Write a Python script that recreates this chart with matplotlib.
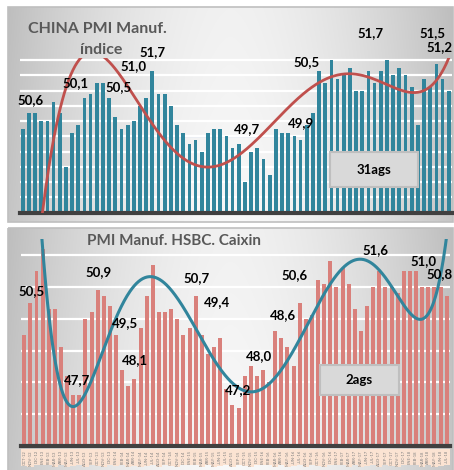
import numpy as np
import matplotlib
matplotlib.use("Agg")
import matplotlib.pyplot as plt
from matplotlib.patches import Rectangle

# ---------------- data ----------------
months_es = ["ENE", "FEB", "MAR", "ABR", "MAY", "JUN", "JUL", "AGO", "SEP", "OCT", "NOV", "DIC"]
tick_labels = [f"{months_es[(9 + i) % 12]}-{12 + (9 + i) // 12}" for i in range(70)]

pmi_official = [50.2, 50.6, 50.6, 50.4, 50.4, 50.9, 50.6, 49.2, 50.1, 50.3,
                51.0, 51.1, 51.4, 51.4, 51.0, 50.5, 50.2, 50.3, 50.4, 50.8,
                51.0, 51.7, 51.1, 51.1, 50.8, 50.3, 50.1, 49.8, 49.9, 49.6,
                50.1, 50.2, 50.2, 50.0, 49.7, 49.8, 48.8, 49.6, 49.7, 49.4,
                49.0, 50.2, 50.1, 50.1, 50.0, 49.9, 50.3, 50.6, 51.7, 51.4,
                52.0, 51.5, 51.6, 51.8, 51.2, 51.2, 51.7, 51.4, 51.7, 52.0,
                51.6, 51.8, 51.6, 51.3, 50.3, 51.5, 51.3, 51.9, 51.5, 51.2]

pmi_caixin = [49.5, 50.5, 51.5, 52.2, 50.3, 50.3, 49.1, 48.2, 47.6, 47.6,
              50.0, 50.2, 50.9, 50.7, 50.4, 49.5, 48.4, 47.9, 48.1, 49.7,
              50.7, 51.7, 50.2, 50.2, 50.3, 50.0, 49.5, 49.7, 50.7, 49.5,
              48.9, 49.1, 49.4, 47.8, 47.3, 47.2, 48.2, 48.5, 48.2, 48.4,
              48.0, 49.6, 49.4, 49.1, 48.5, 50.5, 50.0, 50.1, 51.2, 51.1,
              51.8, 51.0, 51.6, 51.1, 50.3, 49.6, 50.4, 51.0, 51.5, 51.0,
              51.0, 50.8, 51.5, 51.5, 51.5, 51.0, 51.0, 51.0, 51.0, 50.7]

# trend line (Excel polynomial trendline)
trend_top_x = [4.2, 5.4, 6.5, 8.1, 10.3, 14.9, 18.9, 21.6, 24.3, 27.0, 29.7, 31.9, 34.0,
               36.7, 39.4, 42.1, 44.8, 47.5, 49.7, 52.4, 54.1, 56.8, 60.0, 63.2, 64.8,
               67.0, 68.6, 70.0]
trend_top_y = [48.0, 49.38, 50.34, 51.26, 52.02, 52.02, 51.13, 50.34, 49.82, 49.47, 49.25,
               49.2, 49.29, 49.56, 49.95, 50.43, 50.95, 51.30, 51.48, 51.58, 51.61, 51.55,
               51.35, 51.17, 51.14, 51.35, 51.61, 52.02]

trend_bot_x = [3.9, 5.2, 6.6, 9.1, 11.2, 13.4, 16.1, 18.8, 22.1, 24.3, 27.0, 29.7, 30.8,
               32.4, 33.5, 36.2, 38.4, 40.6, 43.3, 46.0, 48.8, 51.5, 53.7, 55.9, 58.0,
               60.2, 62.9, 65.7, 67.3, 68.7, 69.9]
trend_bot_y = [52.47, 49.8, 48.2, 46.97, 47.76, 49.02, 50.17, 50.85, 51.16, 51.0, 50.38,
               49.64, 49.02, 48.70, 48.18, 47.81, 47.74, 47.92, 48.49, 49.33, 50.17, 51.32,
               51.74, 51.90, 51.74, 51.22, 50.48, 49.96, 50.17, 51.11, 52.47]

labels_top = ["50,6", "50,1", "50,5", "51,0", "51,7", "49,7", "49,9", "50,5", "51,7", "51,5", "51,2"]
labels_top_pos = [(2.3, 50.95), (9.6, 51.40), (16.6, 51.29), (18.9, 51.84), (22.1, 52.21),
                  (37.3, 50.19), (46.1, 50.35), (47.05, 51.95), (57.4, 52.71), (67.4, 52.71),
                  (68.5, 52.34)]
labels_bot = ["50,5", "50,9", "49,5", "48,1", "47,7", "50,7", "49,4", "47,2", "48,0", "48,6",
              "50,6", "51,6", "51,0", "50,8"]
labels_bot_pos = [(2.26, 50.87), (13.2, 51.47), (17.45, 49.86), (19.1, 48.70), (9.6, 48.07),
                  (29.2, 51.28), (32.5, 50.52), (35.9, 47.76), (39.3, 48.83), (43.3, 50.12),
                  (45.2, 51.37), (58.3, 52.16), (66.3, 51.81), (68.9, 51.40)]

# ---------------- figure ----------------
W, H = 454, 470
fig = plt.figure(figsize=(W / 100, H / 100), dpi=100)
fig.patch.set_facecolor("white")
FONT = ["Lato", "DejaVu Sans"]

# background panels with gradient
bg = fig.add_axes([0, 0, 1, 1], zorder=-10)
bg.set_xlim(0, W)
bg.set_ylim(H, 0)
bg.axis("off")


def gradient_panel(x0, y0, x1, y1):
    u = np.linspace(0, 1, 300)
    v = np.linspace(0, 1, 100)
    U, V = np.meshgrid(u, v)
    g = 0.975 - 0.20 * (np.abs(U - 0.5) / 0.5) ** 1.7 - 0.03 * (1 - V)
    img = np.dstack([g, g, g])
    bg.imshow(img, extent=(x0, x1, y1, y0), aspect="auto", interpolation="bilinear", zorder=0)
    bg.add_patch(Rectangle((x0, y0), x1 - x0, y1 - y0, fill=False, ec="#bfbfbf", lw=1.2, zorder=1))


gradient_panel(8, 7, 453, 222)
gradient_panel(8, 228, 453, 472)

x = np.arange(1, 71)
TEAL = "#31859c"
SALMON = "#d9807b"
RED = "#c0504d"


def setup(ax, ymin, ymax, grid_step):
    ax.set_facecolor("none")
    ax.set_xlim(0.5, 70.5)
    ax.set_ylim(ymin, ymax)
    ax.set_yticks(np.arange(ymin + grid_step, ymax + 1e-6, grid_step))
    ax.yaxis.grid(True, color="white", lw=1.6)
    ax.set_axisbelow(True)
    ax.tick_params(axis="y", length=0, labelleft=False)
    for s in ["top", "right", "left"]:
        ax.spines[s].set_visible(False)
    ax.spines["bottom"].set_color("#404040")
    ax.spines["bottom"].set_linewidth(3.0)


# ---- top panel ----
ax1 = fig.add_axes([19.6 / W, 1 - 212.7 / H, 432.2 / W, 154.6 / H])
setup(ax1, 48.0, 52.05, 0.4)
ax1.axhline(50.0, color="#c5d9f1", lw=1.0, zorder=0.5)
ax1.bar(x, np.array(pmi_official) - 48.0, bottom=48.0, width=0.6, color=TEAL, zorder=2)
c1 = np.polyfit(trend_top_x, trend_top_y, 6)
xs = np.linspace(0.5, 70.5, 600)
ax1.plot(xs, np.polyval(c1, xs), color=RED, lw=2.0, zorder=3)
ax1.set_xticks([])
for t, (px, py) in zip(labels_top, labels_top_pos):
    ax1.text(px, py, t, ha="center", va="center", fontsize=9.5, fontweight="bold",
             family=FONT, color="black", clip_on=False, zorder=6)
ax1.add_patch(Rectangle((50.8, 48.67), 14.2, 0.92, fc="#d9d9d9", ec="#bfbfbf", lw=1.5, zorder=5))
ax1.text(57.9, 49.13, "31ags", ha="center", va="center", fontsize=9.5, fontweight="bold",
         family=FONT, zorder=6)

fig.text(28 / W, 1 - 29 / H, "CHINA PMI Manuf.", ha="left", va="center", fontsize=11.5,
         fontweight="bold", color="#595959", family=FONT)
fig.text(101 / W, 1 - 50 / H, "índice", ha="center", va="center", fontsize=11.5,
         fontweight="bold", color="#595959", family=FONT)

# ---- bottom panel ----
ax2 = fig.add_axes([21.2 / W, 1 - 446 / H, 428.5 / W, 206.9 / H])
setup(ax2, 46.0, 52.5, 1.0)
ax2.bar(x, np.array(pmi_caixin) - 46.0, bottom=46.0, width=0.65, color=SALMON, zorder=2)
c2 = np.polyfit(trend_bot_x, trend_bot_y, 6)
ax2.plot(xs, np.polyval(c2, xs), color=TEAL, lw=2.2, zorder=3)
ax2.set_xticks(x)
ax2.set_xticklabels(tick_labels, rotation=90, fontsize=3.0, color="#7f7f7f", family=FONT)
ax2.tick_params(axis="x", length=0, pad=3)
for lbl in ax2.get_xticklabels():
    lbl.set_bbox(dict(fc="#fbe3d2", ec="none", pad=0.8))
for t, (px, py) in zip(labels_bot, labels_bot_pos):
    ax2.text(px, py, t, ha="center", va="center", fontsize=9.5, fontweight="bold",
             family=FONT, color="black", clip_on=False, zorder=6)
ax2.add_patch(Rectangle((49.3, 47.6), 12.9, 0.94, fc="#d9d9d9", ec="#bfbfbf", lw=1.5, zorder=5))
ax2.text(55.7, 48.07, "2ags", ha="center", va="center", fontsize=9.5, fontweight="bold",
         family=FONT, zorder=6)

fig.text(174 / W, 1 - 241 / H, "PMI Manuf. HSBC. Caixin", ha="center", va="center",
         fontsize=11, fontweight="bold", color="#595959", family=FONT)

fig.savefig("out.png", dpi=100, facecolor="white")
